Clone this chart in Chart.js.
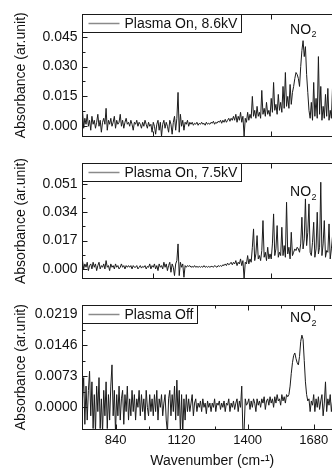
<!DOCTYPE html>
<html><head><meta charset="utf-8">
<script src="https://cdn.jsdelivr.net/npm/chart.js@4/dist/chart.umd.min.js"></script>
<style>
html,body{margin:0;padding:0;background:#fff;overflow:hidden;width:332px;height:470px;}
#wrap{position:relative;width:332px;height:470px;overflow:hidden;background:#fff;}
canvas{position:absolute;left:0;}
</style></head><body>
<div id="wrap">
<canvas id="c1" width="342" height="150" style="top:0px"></canvas>
<canvas id="c2" width="342" height="142" style="top:150px"></canvas>
<canvas id="c3" width="342" height="178" style="top:292px"></canvas>
</div>
<script>
// ---- data ----
const wavenumbers = [
700,705,710,715,720,725,730,735,740,745,
750,755,760,765,770,775,780,785,790,795,
800,805,810,815,820,825,830,835,840,845,
850,855,860,865,870,875,880,885,890,895,
900,905,910,915,920,925,930,935,940,945,
950,955,960,965,970,975,980,985,990,995,
1000,1005,1010,1015,1020,1025,1030,1035,1040,1045,
1050,1055,1060,1065,1070,1075,1080,1085,1090,1095,
1100,1105,1110,1115,1120,1125,1130,1135,1140,1145,
1150,1155,1160,1165,1170,1175,1180,1185,1190,1195,
1200,1205,1210,1215,1220,1225,1230,1235,1240,1245,
1250,1255,1260,1265,1270,1275,1280,1285,1290,1295,
1300,1305,1310,1315,1320,1325,1330,1335,1340,1345,
1350,1355,1360,1365,1370,1375,1380,1385,1390,1395,
1400,1405,1410,1415,1420,1425,1430,1435,1440,1445,
1450,1455,1460,1465,1470,1475,1480,1485,1490,1495,
1500,1505,1510,1515,1520,1525,1530,1535,1540,1545,
1550,1555,1560,1565,1570,1575,1580,1585,1590,1595,
1600,1605,1610,1615,1620,1625,1630,1635,1640,1645,
1650,1655,1660,1665,1670,1675,1680,1685,1690,1695,
1700,1705,1710,1715,1720,1725,1730,1735,1740,1745,
1750,1755,1760,1765,1770];

const absOn86 = [
0.008,-0.001,0.004,0.001,0.006,0,0.003,-0.002,0.005,0.001,
0.003,-0.001,0.002,0.006,0,0.003,-0.003,0.002,0.004,0.001,
0.009,-0.002,0.003,0.001,0.004,0,0.002,0.005,-0.001,0.003,
0.001,0.002,0.006,0,0.003,-0.001,0.002,0.004,0.001,0.002,
0,0.003,0.001,-0.002,0.002,0.001,0.003,0,0.002,0.001,
-0.001,0.002,0,0.003,0.001,-0.001,0.002,0,0.001,-0.003,
0.002,0,-0.004,0.001,0.003,-0.002,0.002,-0.005,0.001,0.003,
-0.001,0.002,0,-0.003,0.003,0.001,-0.004,0.002,0.005,-0.002,
0.004,0.017,-0.003,0.006,0,0.003,-0.002,0.002,0.001,0.003,
0,0.002,0.001,0.002,0.0005,0.0015,0.001,0.002,0.0005,0.0015,
0.001,0.002,0.001,0.0015,0.0005,0.002,0.001,0.0015,0.001,0.002,
0.0015,0.0025,0.001,0.002,0.0015,0.0025,0.002,0.003,0.0015,0.003,
0.002,0.0035,0.002,0.003,0.004,0.0025,0.004,0.003,0.005,0.003,
0.006,0.002,0.005,0.003,0.007,0.002,0.005,-0.005,0.004,0.002,
0.007,0.003,0.006,0.004,0.015,0.005,0.008,0.004,0.010,0.005,
0.007,0.004,0.018,0.006,0.009,0.005,0.012,0.006,0.008,0.005,
0.014,0.007,0.022,0.008,0.011,0.006,0.016,0.008,0.012,0.007,
0.020,0.009,0.027,0.010,0.015,0.009,0.021,0.011,0.017,0.020,
0.024,0.027,0.026,0.024,0.020,0.030,0.038,0.043,0.035,0.040,
0.026,0.017,0.008,0.004,0.012,0.003,0.022,0.005,0.014,0.004,
0.035,0.006,0.020,0.003,0.010,0.004,0.016,0.005,0.019,0.003,
0.008,0.004,0.020,0.005,0.009];

const absOn75 = [
0.005,0,0.003,0.001,0.004,-0.001,0.002,0.003,0,0.004,
0.001,0.003,-0.001,0.002,0.004,0,0.002,0.001,0.003,0,
0.005,0.001,0.002,-0.001,0.003,0.001,0.002,0,0.003,0.001,
0.002,0,0.001,0.003,0.001,0.002,0,0.002,0.001,0.002,
0.001,0.002,0,0.002,0.001,0.001,0.002,0,0.001,0.002,
0.0005,0.0015,0.001,0.002,0,0.0015,0.001,0.003,0,0.002,
0.001,0.003,0,0.002,-0.001,0.003,0.001,0.002,0,0.004,
0.001,0.003,-0.001,0.002,0.004,-0.002,0.003,0.001,-0.004,0.003,
0.005,0.015,-0.004,0.004,0.001,0.003,-0.005,0.002,0.001,0.002,
0.0015,0.002,0.001,0.0015,0.001,0.002,0.001,0.0015,0.001,0.0015,
0.001,0.0015,0.001,0.002,0.001,0.0015,0.001,0.0015,0.001,0.0015,
0.0015,0.001,0.002,0.0015,0.001,0.002,0.0015,0.002,0.0015,0.0025,
0.002,0.003,0.002,0.0035,0.0025,0.003,0.004,0.0025,0.004,0.003,
0.005,0.002,0.004,0.003,0.006,0.002,0.005,-0.006,0.004,0.003,
0.008,0.003,0.006,0.004,0.013,0.024,0.005,0.009,0.020,0.006,
0.008,0.005,0.011,0.029,0.007,0.010,0.005,0.013,0.006,0.009,
0.006,0.015,0.033,0.008,0.012,0.026,0.007,0.010,0.008,0.025,
0.008,0.014,0.007,0.040,0.009,0.013,0.006,0.022,0.008,0.010,
0.012,0.011,0.013,0.012,0.010,0.015,0.031,0.012,0.018,0.042,
0.014,0.022,0.039,0.010,0.008,0.016,0.028,0.007,0.012,0.034,
0.009,0.013,0.052,0.008,0.015,0.029,0.007,0.011,0.010,0.027,
0.006,0.012,0.020,0.008,0.011];

const absOff = [
0.0020,0.0070,-0.0040,0.0050,-0.0030,0.0040,0.0085,-0.0020,0.0060,-0.0050,
0.0030,-0.0060,0.0050,-0.0010,0.0070,-0.0050,0.0020,-0.0060,0.0040,-0.0020,
0.0060,-0.0050,0.0030,-0.0030,0.0050,0.0100,-0.0020,0.0040,-0.0060,0.0030,
-0.0020,0.0050,-0.0030,0.0020,0.0040,-0.0040,0.0030,-0.0010,0.0050,-0.0030,
0.0020,-0.0020,0.0040,-0.0010,0.0030,-0.0030,0.0020,0,0.0040,-0.0020,
0.0030,-0.0010,0.0020,-0.0030,0.0040,0,-0.0020,0.0030,-0.0010,0.0020,
-0.0020,0.0030,-0.0010,0.0040,-0.0030,0.0020,0,0.0030,-0.0020,0.0010,
0.0030,-0.0030,-0.0060,0.0020,0.0040,-0.0020,0.0030,-0.0010,0.0050,-0.0030,
0.0064,-0.0020,0.0040,-0.0060,0.0030,-0.0060,0.0020,-0.0030,0.0030,-0.0010,
0.0020,-0.0010,0.0010,0.0030,-0.0020,0.0010,0.0020,-0.0010,0.0010,0,
0.0015,-0.0010,0.0020,0,0.0010,-0.0015,0.0015,0,0.0010,-0.0010,
0.0010,0,0.0020,-0.0010,0.0010,0.0005,0.0015,-0.0005,0.0010,0,
0.0015,-0.0010,0.0010,0.0005,0.0020,-0.0010,0.0010,0,0.0015,-0.0005,
0.0010,0.0020,-0.0010,0.0015,0,0.0050,-0.0060,-0.0055,0.0020,0.0005,
0.0010,0.0020,-0.0005,0.0015,0,0.0020,0.0010,-0.0010,0.0020,0.0005,
0.0015,0,0.0020,0.0010,0.0025,-0.0005,0.0015,0.0020,0.0005,0.0025,
0.0010,0.0020,0,0.0025,0.0010,0.0030,0.0015,0.0020,0.0005,0.0030,
0.0015,0.0025,0.0010,0.0030,0.0025,0.0030,0.0050,0.0080,0.0105,0.0122,
0.0128,0.0115,0.0105,0.0100,0.0120,0.0155,0.0170,0.0160,0.0110,0.0060,
0.0030,0.0015,0.0020,-0.0010,0.0015,0.0005,0.0030,-0.0010,0.0020,0,
0.0025,-0.0005,0.0015,0.0030,-0.0020,0.0010,0.0060,-0.0010,0.0020,0.0005,
0.0030,-0.0010,0.0015,0,0.0025];

const seriesNames = ['Plasma On, 8.6kV', 'Plasma On, 7.5kV', 'Plasma Off'];
const yTicks86 = [0, 0.015, 0.030, 0.045];
const yTicks75 = [0, 0.017, 0.034, 0.051];
const yTicksOff = [0, 0.0073, 0.0146, 0.0219];
const xTickLabels = [840, 1120, 1400, 1680];
const xMinorTicks = [980, 1260, 1540];
const xTicksUpper = [1000, 1500];
const yTitle = 'Absorbance (ar.unit)';
const xTitle = 'Wavenumber (cm-\u00B9)';
const bandLabel = 'NO';

// ---- drawing ----
const FONT = '"Liberation Sans", Arial, Helvetica, sans-serif';
Chart.defaults.font.family = FONT;
Chart.defaults.color = '#111';

const framePlugin = {
  id: 'frame',
  afterDraw(chart, args, o) {
    const {ctx, chartArea: a, scales: {x, y}} = chart;
    const L = Math.floor(a.left) + 0.5, T = Math.floor(a.top) + 0.5, B = Math.floor(a.bottom) + 0.5, R = Math.floor(a.right) + 0.5;
    ctx.save();
    ctx.strokeStyle = '#1a1a1a';
    ctx.lineWidth = 1;
    ctx.strokeRect(L, T, R - L, B - T);
    ctx.beginPath();
    const ym = o.yMajor;
    const step = ym[1] - ym[0];
    const minors = [];
    for (let i = 0; i < ym.length; i++) minors.push(ym[i] + step / 2);
    ym.forEach(v => { const p = Math.round(y.getPixelForValue(v)) + 0.5; ctx.moveTo(L, p); ctx.lineTo(L + 5, p); });
    minors.forEach(v => { if (v < y.max) { const p = Math.round(y.getPixelForValue(v)) + 0.5; ctx.moveTo(L, p); ctx.lineTo(L + 3, p); } });
    o.xMajor.forEach(v => { const p = Math.round(x.getPixelForValue(v)) + 0.5; ctx.moveTo(p, B); ctx.lineTo(p, B - 5); ctx.moveTo(p, T); ctx.lineTo(p, T + 5); });
    o.xMinor.forEach(v => { const p = Math.round(x.getPixelForValue(v)) + 0.5; ctx.moveTo(p, B); ctx.lineTo(p, B - 3); ctx.moveTo(p, T); ctx.lineTo(p, T + 3); });
    ctx.stroke();
    // legend box
    const name = chart.data.datasets[0].label;
    ctx.font = '14px ' + FONT;
    const tw = ctx.measureText(name).width;
    const bw = Math.round(6 + 31 + 5 + tw + 4), bh = 18;
    ctx.fillStyle = '#fff';
    ctx.fillRect(L, T, bw, bh);
    ctx.strokeRect(L, T, bw, bh);
    ctx.beginPath();
    ctx.strokeStyle = '#8a8a8a';
    ctx.lineWidth = 1.5;
    ctx.moveTo(L + 6, T + 9); ctx.lineTo(L + 37, T + 9);
    ctx.stroke();
    ctx.fillStyle = '#111';
    ctx.textBaseline = 'middle';
    ctx.textAlign = 'left';
    ctx.fillText(name, L + 42, T + 9.5);
    // NO2 label
    const nx = x.getPixelForValue(o.no2[0]), ny = y.getPixelForValue(o.no2[1]);
    ctx.font = '14px ' + FONT;
    ctx.fillText(bandLabel, nx, ny);
    const w = ctx.measureText(bandLabel).width;
    ctx.font = '9px ' + FONT;
    ctx.fillText('2', nx + w + 0.5, ny + 5);
    ctx.restore();
  }
};

function makeChart(id, values, name, yTicks, yMin, yMax, digits, cfg) {
  return new Chart(document.getElementById(id), {
    type: 'line',
    data: {
      datasets: [{
        label: name,
        data: wavenumbers.map((w, i) => ({x: w, y: values[i]})),
        borderColor: '#1c1c1c',
        borderWidth: 1,
        pointRadius: 0,
        fill: false,
        tension: 0
      }]
    },
    options: {
      responsive: false,
      animation: false,
      devicePixelRatio: 1,
      layout: {padding: {top: cfg.padTop, left: 0, right: 0, bottom: 0}},
      plugins: {
        legend: {display: false},
        tooltip: {enabled: false},
        frame: {yMajor: yTicks, xMajor: cfg.xMajor, xMinor: cfg.xMinor, no2: cfg.no2}
      },
      scales: {
        x: {
          type: 'linear', min: 700, max: 1800,
          grid: {display: false, drawTicks: false},
          border: {display: false},
          afterBuildTicks: s => { s.ticks = cfg.xMajor.concat(cfg.xMinor).sort((a, b) => a - b).map(v => ({value: v})); },
          ticks: {
            display: cfg.showX, padding: 4, autoSkip: false, maxRotation: 0,
            font: {size: 13}, color: '#111',
            callback: v => (xTickLabels.includes(v) ? String(v) : '')
          },
          title: {display: cfg.showX, text: xTitle, font: {size: 14}, color: '#111', padding: {top: 0, bottom: 0}},
          afterFit: s => { s.height = cfg.xHeight; }
        },
        y: {
          min: yMin, max: yMax,
          grid: {display: false, drawTicks: false},
          border: {display: false},
          afterBuildTicks: s => { s.ticks = yTicks.map(v => ({value: v})); },
          ticks: {padding: 5, font: {size: 14}, color: '#111', callback: v => Number(v).toFixed(digits)},
          title: {display: true, text: yTitle, font: {size: 14}, color: '#111', padding: {top: 12.5, bottom: 0}},
          afterFit: s => { s.width = 82.5; }
        }
      }
    },
    plugins: [framePlugin]
  });
}

makeChart('c1', absOn86, seriesNames[0], yTicks86, -0.0052, 0.0564, 3,
  {padTop: 14, xHeight: 5, showX: false, xMajor: xTicksUpper, xMinor: [], no2: [1580, 0.0484]});
makeChart('c2', absOn75, seriesNames[1], yTicks75, -0.0058, 0.0633, 3,
  {padTop: 6, xHeight: 5, showX: false, xMajor: xTicksUpper, xMinor: [], no2: [1580, 0.0459]});
makeChart('c3', absOff, seriesNames[2], yTicksOff, -0.0051, 0.0240, 4,
  {padTop: 5, xHeight: 41, showX: true, xMajor: xTickLabels, xMinor: xMinorTicks, no2: [1580, 0.0210]});
</script>
</body></html>
